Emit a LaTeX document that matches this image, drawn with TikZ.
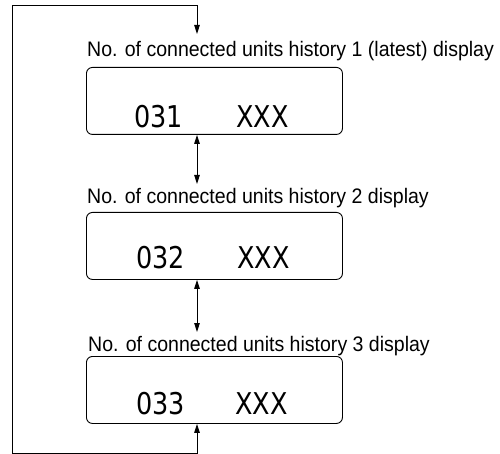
\documentclass[tikz,border=0pt]{standalone}
\usepackage{fontspec}
\setmainfont{Liberation Sans}[FakeStretch=0.93]
\newfontfamily\digitfont{DejaVu Sans}[FakeStretch=0.85]
\usetikzlibrary{arrows.meta}
\begin{document}
\begin{tikzpicture}[x=1pt,y=-1pt,
  lbl/.style={anchor=base west,inner sep=0pt,font=\fontsize{21}{21}\selectfont},
  disp/.style={draw,rounded corners=6pt,line width=0.9pt,minimum width=256pt,minimum height=67pt,inner sep=0pt,anchor=north west},
  dig/.style={anchor=base west,inner sep=0pt,font=\digitfont\fontsize{30}{30}\selectfont},
  conn/.style={line width=0.9pt},
  tips/.style={{Triangle[length=9pt,width=5.5pt]}-{Triangle[length=9pt,width=5.5pt]}}]
\useasboundingbox (0,0) rectangle (500,454);
% labels
\node[lbl] (t1) at (87,57) {No. of connected units history 1 (latest) display};
\node[lbl] (t2) at (87,204) {No. of connected units history 2 display};
\node[lbl] (t3) at (88,351) {No. of connected units history 3 display};
% display boxes
\node[disp] (b1) at (86,67) {};
\node[disp] (b2) at (86,212) {};
\node[disp] (b3) at (86,356) {};
% display texts
\node[dig] (d1a) at (134,128) {031};
\node[dig] (d1b) at (236,128) {XXX};
\node[dig] (d2a) at (136,268) {032};
\node[dig] (d2b) at (237,268) {XXX};
\node[dig] (d3a) at (136,414) {033};
\node[dig] (d3b) at (235,414) {XXX};
% connector coordinates
\coordinate (ax) at (197,0);
\coordinate (a1) at (197,34);
\coordinate (a2) at (197,184);
\coordinate (a3) at (197,332);
\coordinate (tr) at (197,5);
\coordinate (tl) at (12,5);
\coordinate (bl) at (12,453);
\coordinate (br) at (197,453);
% connectors
\draw[conn,tips] (b3.south -| ax) -- (br) -- (bl) -- (tl) -- (tr) -- (a1);
\draw[conn,tips] (b1.south -| ax) -- (a2);
\draw[conn,tips] (b2.south -| ax) -- (a3);
\end{tikzpicture}
\end{document}
